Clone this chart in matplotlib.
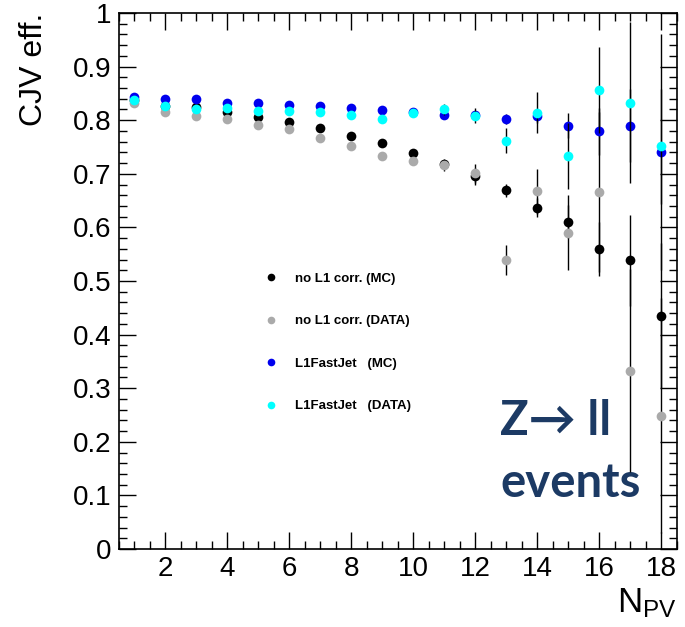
import matplotlib
matplotlib.use("Agg")
import matplotlib.pyplot as plt
from matplotlib.lines import Line2D
from matplotlib.ticker import MultipleLocator, FuncFormatter
import numpy as np

plt.rcParams["font.family"] = ["Liberation Sans", "DejaVu Sans"]
plt.rcParams["mathtext.default"] = "regular"

# number of primary vertices
npv = list(range(1, 19))

# CJV efficiency, no L1 correction
noL1_mc = [0.838, 0.826, 0.825, 0.815, 0.806, 0.797, 0.786, 0.771, 0.757,
           0.739, 0.718, 0.695, 0.669, 0.637, 0.611, 0.560, 0.539, 0.435]
noL1_mc_err = [0.002, 0.002, 0.002, 0.002, 0.003, 0.003, 0.003, 0.004, 0.004,
               0.005, 0.008, 0.015, 0.012, 0.018, 0.031, 0.05, 0.085, 0.135]
noL1_data = [0.833, 0.816, 0.807, 0.802, 0.791, 0.784, 0.767, 0.752, 0.733,
             0.724, 0.716, 0.701, 0.540, 0.667, 0.590, 0.666, 0.333, 0.249]
noL1_data_err = [0.002, 0.002, 0.002, 0.002, 0.003, 0.003, 0.003, 0.004, 0.005,
                 0.006, 0.011, 0.018, 0.028, 0.042, 0.07, 0.15, 0.19, 0.22]

# CJV efficiency, L1FastJet
fj_mc = [0.844, 0.839, 0.839, 0.833, 0.833, 0.828, 0.826, 0.823, 0.819,
         0.815, 0.810, 0.810, 0.802, 0.807, 0.790, 0.779, 0.790, 0.741]
fj_mc_err = [0.002, 0.002, 0.002, 0.002, 0.002, 0.002, 0.003, 0.003, 0.003,
             0.004, 0.006, 0.008, 0.010, 0.012, 0.024, 0.044, 0.068, 0.22]
fj_data = [0.838, 0.826, 0.820, 0.822, 0.818, 0.818, 0.816, 0.810, 0.803,
           0.814, 0.820, 0.808, 0.762, 0.814, 0.733, 0.856, 0.833, 0.751]
fj_data_err = [0.002, 0.002, 0.002, 0.002, 0.002, 0.003, 0.003, 0.003, 0.004,
               0.005, 0.010, 0.014, 0.024, 0.038, 0.062, 0.08, 0.15, 0.107]

labels = ["no L1 corr. (MC)", "no L1 corr. (DATA)",
          "L1FastJet   (MC)", "L1FastJet   (DATA)"]
colors = ["black", "#aaaaaa", "#0000ee", "#00ffff"]

W, H = 685, 627
fig = plt.figure(figsize=(W / 100, H / 100), dpi=100)
ax = fig.add_axes([118.5 / W, 1 - 549 / H, (677 - 118.5) / W, (549 - 13) / H])

series = [(noL1_mc, noL1_mc_err), (noL1_data, noL1_data_err),
          (fj_mc, fj_mc_err), (fj_data, fj_data_err)]
for i, ((vals, errs), col) in enumerate(zip(series, colors)):
    ax.errorbar(npv, vals, yerr=errs, fmt="o", color=col, ecolor="black",
                elinewidth=1, capsize=2.5, capthick=1, markersize=7,
                markeredgewidth=0, zorder=3 + i)

ax.set_xlim(0.5, 18.5)
ax.set_ylim(0, 1)
ax.xaxis.set_major_locator(MultipleLocator(2))
ax.xaxis.set_minor_locator(MultipleLocator(0.5))
ax.yaxis.set_major_locator(MultipleLocator(0.1))
ax.yaxis.set_minor_locator(MultipleLocator(0.02))
ax.yaxis.set_major_formatter(FuncFormatter(lambda v, p: "%g" % round(v, 2)))
ax.set_xticks(np.arange(2, 19, 2))
ax.tick_params(which="both", direction="in", top=True, right=True,
               labelsize=20, width=1)
ax.tick_params(which="major", length=12, pad=5)
ax.tick_params(which="minor", length=6)
for sp in ax.spines.values():
    sp.set_linewidth(1.2)

ax.set_ylabel("CJV eff.", fontsize=23, loc="top")
ax.yaxis.set_label_coords(-0.124, 1.0)
ax.set_xlabel(r"$\mathregular{N_{PV}}$", fontsize=25, loc="right", va="baseline")
ax.xaxis.set_label_coords(1.0, -0.119)

handles = [Line2D([], [], marker="o", linestyle="none", color=c,
                  markersize=5.5, markeredgewidth=0) for c in colors]
ax.legend(handles, labels, loc="upper left", bbox_to_anchor=(0.261, 0.516),
          frameon=False, prop=dict(weight="bold", size=9.5),
          labelspacing=2.3, handlelength=1.0, handletextpad=1.35,
          borderpad=0, borderaxespad=0)

navy = "#1c3a64"
ax.text(0.683, 0.2127, "Z\u2192 ll", transform=ax.transAxes, fontsize=34,
        fontweight="bold", color=navy, family=["Lato", "DejaVu Sans"],
        ha="left", va="baseline")
ax.text(0.683, 0.097, "events", transform=ax.transAxes, fontsize=34,
        fontweight="bold", color=navy, family=["Lato", "DejaVu Sans"],
        ha="left", va="baseline")

fig.savefig("out.png", dpi=100)
